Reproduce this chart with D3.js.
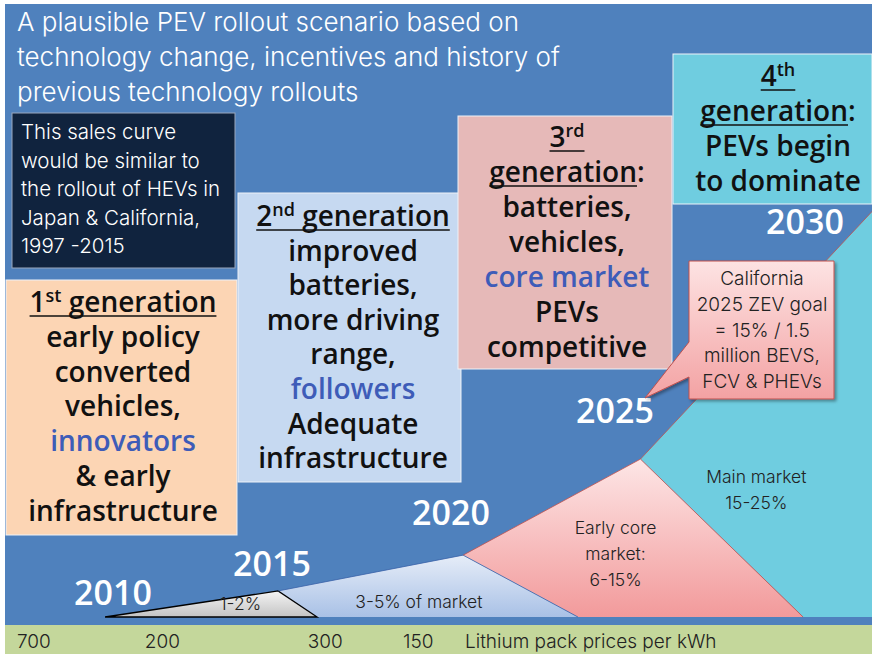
<!DOCTYPE html>
<html>
<head>
<meta charset="utf-8">
<script src="https://cdn.jsdelivr.net/npm/d3@7"></script>
<style>
  html, body { margin: 0; padding: 0; background: #fff; }
  svg { display: block; }
</style>
</head>
<body>
<div id="chart"></div>
<script>
// --- data ---
const years = [2010, 2015, 2020, 2025, 2030];
const yearLevel = [2.9, 10.1, 22.6, 47.7, 94.1];          // sales index where each year label sits
const curveYears = [2009.75, 2015.17, 2020.37, 2025.67, 2031.8];
const curveLevel = [0, 6.4, 15.2, 38.8, 100];              // rollout curve (relative sales index)
const phaseEndYears = [2016.26, 2023.87, 2029.95, 2031.8]; // where each market phase meets the baseline
const phaseLabels = [["1-2%"], ["3-5% of market"], ["Early core", "market:", "6-15%"], ["Main market", "15-25%"]];
const priceLabels = ["700", "200", "300", "150"];
const priceYears = [2006.98, 2011.0, 2016.0, 2018.66];
const priceCaption = "Lithium pack prices per kWh";

const titleLines = ["A plausible PEV rollout scenario based on", "technology change, incentives and history of", "previous technology rollouts"];
const noteLines = ["This sales curve", "would be similar to", "the rollout of HEVs in", "Japan & California,", "1997 -2015"];
const calloutLines = ["California", "2025 ZEV goal", "= 15% /  1.5", "million BEVS,", "FCV & PHEVs"];

// each line: list of [text, flags]  u = underline, s = superscript, b = highlighted
const gen1Lines = [
  [["1", "u"], ["st", "us"], [" generation", "u"]],
  [["early policy", ""]], [["converted", ""]], [["vehicles,", ""]],
  [["innovators", "b"]], [["& early", ""]], [["infrastructure", ""]]
];
const gen2Lines = [
  [["2", "u"], ["nd", "us"], [" generation", "u"]],
  [["improved", ""]], [["batteries,", ""]], [["more driving", ""]], [["range,", ""]],
  [["followers", "b"]], [["Adequate", ""]], [["infrastructure", ""]]
];
const gen3Lines = [
  [["3", "u"], ["rd", "us"]],
  [["generation", "u"], [":", ""]],
  [["batteries,", ""]], [["vehicles,", ""]], [["core market", "b"]], [["PEVs", ""]], [["competitive", ""]]
];
const gen4Lines = [
  [["4", "u"], ["th", "us"]],
  [["generation", "u"], [":", ""]],
  [["PEVs begin", ""]], [["to dominate", ""]]
];

const W = 872, H = 654;
const font = "'Open Sans', 'DejaVu Sans', sans-serif";
const lightFont = "Inter, 'Open Sans', sans-serif";
const phaseColors = ["url(#gGrey)", "url(#gBlue)", "url(#gPink)", "#6fcde0"];
const phaseStrokes = ["#000", "#3a62a8", "#c0504d", "#c0504d"];

const svg = d3.select("#chart").append("svg")
  .attr("width", W)
  .attr("height", H)
  .style("font-family", font);

const x = d3.scaleLinear().domain(years).range([113, 272, 451, 615, 805]);
const y = d3.scaleLinear().domain([0, 100]).range([617, 210]);

// gradients
const defs = svg.append("defs");
function vGrad(id, top, bottom) {
  const g = defs.append("linearGradient").attr("id", id)
    .attr("x1", 0).attr("y1", 0).attr("x2", 0).attr("y2", 1);
  g.append("stop").attr("offset", "0%").attr("stop-color", top);
  g.append("stop").attr("offset", "100%").attr("stop-color", bottom);
}
vGrad("gGrey", "#f4f4f4", "#c4c4c4");
vGrad("gBlue", "#e6edf8", "#a9c1e6");
vGrad("gPink", "#fde6e6", "#f29a9b");
vGrad("gCall", "#fde3e3", "#f3a2a3");
const shadow = defs.append("filter").attr("id", "shadow").attr("x", -0.2).attr("y", -0.2).attr("width", 1.4).attr("height", 1.4);
shadow.append("feDropShadow").attr("dx", 2).attr("dy", 2).attr("stdDeviation", 1.5).attr("flood-opacity", 0.35);

// background
svg.append("rect").attr("x", 5).attr("y", 4).attr("width", W - 5).attr("height", 621).attr("fill", "#4f81bd");
svg.append("rect").attr("x", 5).attr("y", 625).attr("width", W - 5).attr("height", H - 625).attr("fill", "#c4d79b");

// market phases under the rollout curve
const phases = phaseLabels.map((lab, i) => {
  const pts = [
    [curveYears[i], curveLevel[i]],
    [curveYears[i + 1], curveLevel[i + 1]],
    [phaseEndYears[i], 0],
    i === 0 ? [curveYears[0], 0] : [phaseEndYears[i - 1], 0]
  ].map(p => [x(p[0]), y(p[1])]);
  return {label: lab, pts, i};
});

// draw later phases first so earlier triangles sit on top
svg.append("g").selectAll("path")
  .data(phases.slice().reverse())
  .join("path")
  .attr("d", d => "M" + d.pts.join("L") + "Z")
  .attr("fill", d => phaseColors[d.i])
  .attr("stroke", "none");

// edges
svg.append("g").selectAll("path")
  .data(phases)
  .join("path")
  .attr("d", d => d.i === 0
    ? "M" + d.pts.join("L") + "Z"
    : "M" + [d.pts[0], d.pts[1]].join("L") + "M" + [d.pts[1], d.pts[2]].join("L"))
  .attr("fill", "none")
  .attr("stroke", d => phaseStrokes[d.i])
  .attr("stroke-width", d => d.i === 0 ? 1.3 : 0.8);

// phase labels
const labelShift = [[7, 2], [-6, 14], [-15, -22], [-37, 40]];
phases.forEach(d => {
  const c = d3.polygonCentroid(d.pts);
  const lx = c[0] + labelShift[d.i][0];
  const t = svg.append("text")
    .attr("x", lx)
    .attr("y", c[1] + labelShift[d.i][1])
    .attr("text-anchor", "middle")
    .attr("fill", "#222")
    .style("font-family", lightFont)
    .style("font-size", "17.5px")
    .style("font-weight", 300);
  d.label.forEach((line, k) => {
    t.append("tspan").attr("x", lx).attr("dy", k === 0 ? 0 : 26).text(line);
  });
});

// year labels along the curve
svg.append("g").selectAll("text")
  .data(years)
  .join("text")
  .attr("x", d => x(d))
  .attr("y", (d, i) => y(yearLevel[i]))
  .attr("text-anchor", "middle")
  .attr("fill", "#fff")
  .style("font-size", "34px")
  .style("font-weight", 600)
  .text(d => d);

// lithium price strip
svg.append("g").selectAll("text")
  .data(priceLabels)
  .join("text")
  .attr("x", (d, i) => x(priceYears[i]))
  .attr("y", 648)
  .attr("fill", "#222")
  .style("font-family", lightFont)
  .style("font-size", "19px")
  .style("font-weight", 300)
  .text(d => d);
svg.append("text")
  .attr("x", 465).attr("y", 648)
  .attr("fill", "#222")
  .style("font-family", lightFont)
  .style("font-size", "19px")
  .style("font-weight", 300)
  .text(priceCaption);

// title
svg.append("text")
  .attr("fill", "#fff")
  .style("font-family", lightFont)
  .style("font-size", "26px")
  .style("font-weight", 300)
  .selectAll("tspan")
  .data(titleLines)
  .join("tspan")
  .attr("x", 17)
  .attr("y", (d, i) => 31 + i * 35)
  .text(d => d);

// generation boxes
function genBox(lines, box, fill, cx, firstBase, step) {
  svg.append("rect")
    .attr("x", box[0]).attr("y", box[1]).attr("width", box[2]).attr("height", box[3])
    .attr("fill", fill)
    .attr("stroke", "#eef2f8")
    .attr("stroke-width", 1);
  lines.forEach((segs, k) => {
    const base = firstBase + k * step;
    const t = svg.append("text")
      .attr("x", cx)
      .attr("y", base)
      .attr("text-anchor", "middle")
      .attr("fill", "#111")
      .style("font-size", "28px")
      .style("font-weight", 600);
    let raised = false;
    const under = [];
    segs.forEach(([txt, flags]) => {
      const sup = flags.includes("s");
      const ts = t.append("tspan").text(txt);
      if (sup && !raised) { ts.attr("dy", -10).style("font-size", "18px"); raised = true; }
      else if (!sup && raised) { ts.attr("dy", 10); raised = false; }
      else if (sup) ts.style("font-size", "18px");
      if (flags.includes("u")) under.push(ts.node());
      if (flags.includes("b")) ts.attr("fill", "#3e5cb8");
    });
    if (under.length) {
      const boxes = under.map(n => n.getBBox());
      const x0 = d3.min(boxes, b => b.x), x1 = d3.max(boxes, b => b.x + b.width);
      svg.append("line")
        .attr("x1", x0).attr("x2", x1)
        .attr("y1", base + 4).attr("y2", base + 4)
        .attr("stroke", "#111")
        .attr("stroke-width", 1.6);
    }
  });
}

// dark note box
svg.append("rect")
  .attr("x", 12).attr("y", 113).attr("width", 223).attr("height", 155)
  .attr("fill", "#10233e")
  .attr("stroke", "#9aa8bd")
  .attr("stroke-width", 1);
svg.append("text")
  .attr("fill", "#fff")
  .style("font-family", lightFont)
  .style("font-size", "20.5px")
  .style("font-weight", 300)
  .selectAll("tspan")
  .data(noteLines)
  .join("tspan")
  .attr("x", 21)
  .attr("y", (d, i) => 139 + i * 28.5)
  .text(d => d);

genBox(gen1Lines, [6, 280, 231, 255], "#fcd5b4", 123, 312, 34.8);
genBox(gen2Lines, [238, 193, 223, 289], "#c6d9f1", 353, 226, 34.6);
genBox(gen3Lines, [458, 116, 214, 253], "#e6b9b8", 567, 147, 35);
genBox(gen4Lines, [673, 54, W - 673, 150], "#6fcde0", 778, 86, 35);

// California callout
const call = {x: 689, y: 261, w: 145, h: 138, tip: [645, 398], a: 342, b: 377};
svg.append("path")
  .attr("d", `M${call.x},${call.y}H${call.x + call.w}V${call.y + call.h}H${call.x}V${call.b}L${call.tip[0]},${call.tip[1]}L${call.x},${call.a}Z`)
  .attr("fill", "url(#gCall)")
  .attr("stroke", "#c0504d")
  .attr("stroke-width", 1)
  .attr("filter", "url(#shadow)");
svg.append("text")
  .attr("text-anchor", "middle")
  .attr("fill", "#222")
  .style("font-family", lightFont)
  .style("font-size", "19px")
  .style("font-weight", 300)
  .selectAll("tspan")
  .data(calloutLines)
  .join("tspan")
  .attr("x", 762)
  .attr("y", (d, i) => 285 + i * 25.8)
  .text(d => d);
</script>
</body>
</html>
